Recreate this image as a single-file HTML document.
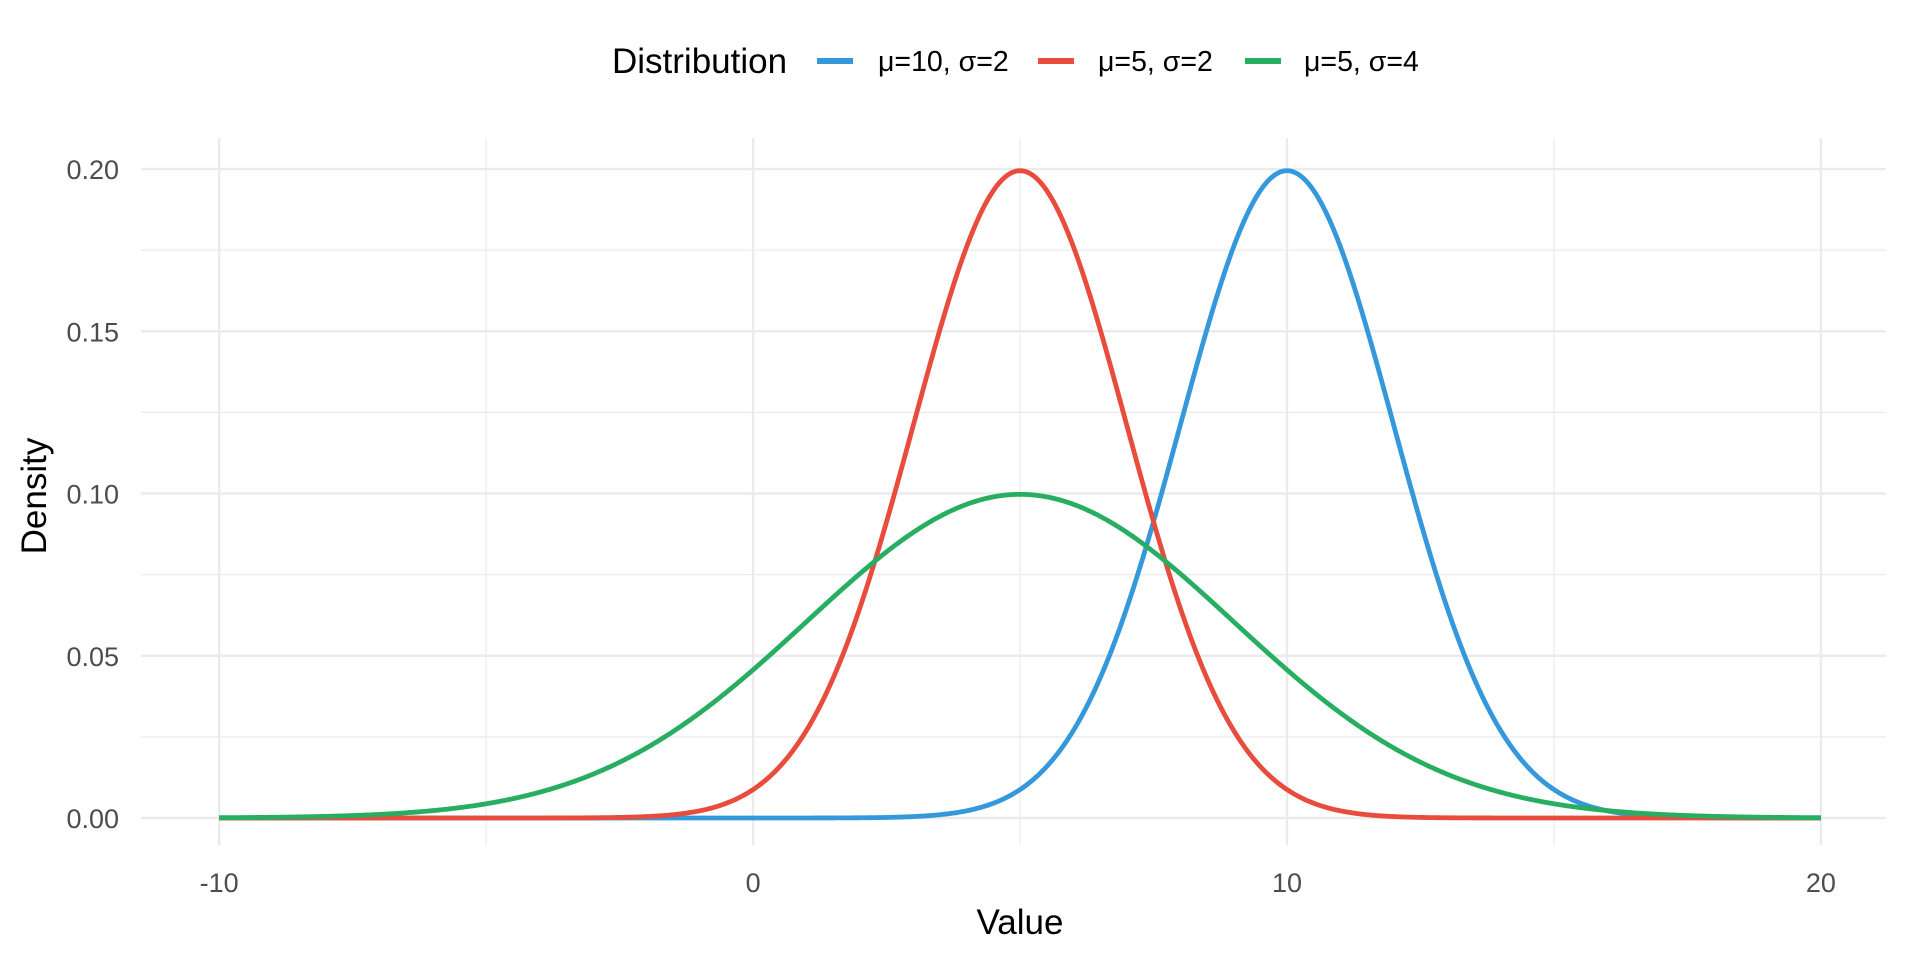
<!DOCTYPE html>
<html><head><meta charset="utf-8"><style>
html,body{margin:0;padding:0;background:#fff;}
svg{display:block;font-family:"Liberation Sans",sans-serif;}
</style></head><body>
<svg id="s" width="1920" height="960" xmlns="http://www.w3.org/2000/svg">
<g id="grid"></g>
<g id="curves" fill="none" stroke-width="4.8" stroke-linejoin="round"></g>
<g font-size="27" fill="#4d4d4d" text-anchor="end" id="ylab"></g>
<g font-size="27" fill="#4d4d4d" text-anchor="middle" id="xlab"></g>
<text x="1020" y="934" font-size="35" text-anchor="middle" fill="#000">Value</text>
<text transform="translate(46,496) rotate(-90)" font-size="35" text-anchor="middle" fill="#000">Density</text>
<text x="612" y="73" font-size="35" fill="#000">Distribution</text>
<rect x="817" y="58" width="36" height="6" fill="#3498db"/>
<text x="878" y="71" font-size="28.5" fill="#000">μ=10, σ=2</text>
<rect x="1038" y="58" width="36" height="6" fill="#e74c3c"/>
<text x="1098" y="71" font-size="28.5" fill="#000">μ=5, σ=2</text>
<rect x="1245" y="58" width="36" height="6" fill="#27ae60"/>
<text x="1304" y="71" font-size="28.5" fill="#000">μ=5, σ=4</text>
</svg>
<script>
var X=function(v){return 219.2+(v+10)*53.39;};
var Y=function(d){return 818-d*3245;};
var g=document.getElementById('grid'),ns="http://www.w3.org/2000/svg";
function ln(x1,y1,x2,y2,w){var l=document.createElementNS(ns,'line');l.setAttribute('x1',x1);l.setAttribute('y1',y1);l.setAttribute('x2',x2);l.setAttribute('y2',y2);l.setAttribute('stroke','#ebebeb');l.setAttribute('stroke-width',w);g.appendChild(l);}
for(var v=-5;v<=15;v+=10)ln(X(v),138,X(v),845,1.2);
for(var d=0.025;d<0.2;d+=0.05)ln(141,Y(d),1886,Y(d),1.2);
for(var v=-10;v<=20;v+=10)ln(X(v),138,X(v),845,2.4);
var yl=document.getElementById('ylab');
for(var i=0;i<=4;i++){var d=i*0.05;ln(141,Y(d),1886,Y(d),2.4);var t=document.createElementNS(ns,'text');t.setAttribute('x',119);t.setAttribute('y',Y(d)+10);t.textContent=d.toFixed(2);yl.appendChild(t);}
var xl=document.getElementById('xlab');
[-10,0,10,20].forEach(function(v){var t=document.createElementNS(ns,'text');t.setAttribute('x',X(v));t.setAttribute('y',892);t.textContent=v;xl.appendChild(t);});
var c=document.getElementById('curves');
[[10,2,'#3498db'],[5,2,'#e74c3c'],[5,4,'#27ae60']].forEach(function(p){var s='';for(var i=0;i<=1000;i++){var x=-10+30*i/1000;var d=Math.exp(-0.5*Math.pow((x-p[0])/p[1],2))/(p[1]*Math.sqrt(2*Math.PI));s+=(i?'L':'M')+X(x).toFixed(2)+','+Y(d).toFixed(2);}var pa=document.createElementNS(ns,'path');pa.setAttribute('d',s);pa.setAttribute('stroke',p[2]);c.appendChild(pa);});
</script>
</body></html>
